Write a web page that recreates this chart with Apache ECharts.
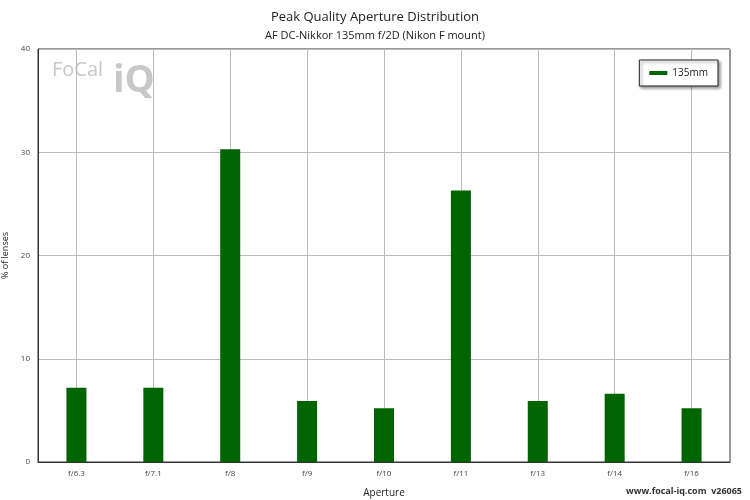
<!DOCTYPE html>
<html><head><meta charset="utf-8">
<script src="https://cdn.jsdelivr.net/npm/echarts@6/dist/echarts.min.js"></script>
<style>body{margin:0}#main{width:750px;height:500px}</style>
</head><body><div id="main"></div>
<script>
// data
const apertures = ['f/6.3', 'f/7.1', 'f/8', 'f/9', 'f/10', 'f/11', 'f/13', 'f/14', 'f/16'];
const lensShare = [7.2, 7.2, 30.3, 5.9, 5.2, 26.3, 5.9, 6.6, 5.2];
const seriesName = '135mm';

const chart = echarts.init(document.getElementById('main'));
const font = 'Open Sans';
chart.setOption({
  textStyle: { fontFamily: font },
  title: {
    text: 'Peak Quality Aperture Distribution',
    subtext: 'AF DC-Nikkor 135mm f/2D (Nikon F mount)',
    left: 'center', top: 6, itemGap: 6,
    textStyle: { fontSize: 13, fontWeight: 'normal', color: '#222', fontFamily: font },
    subtextStyle: { fontSize: 11, color: '#222', fontFamily: font }
  },
  legend: {
    data: [{ name: seriesName, icon: 'rect' }],
    right: 32, top: 60, itemWidth: 18, itemHeight: 4,
    padding: [8, 10], borderColor: '#222', borderWidth: 1, backgroundColor: '#fff',
    shadowColor: 'rgba(0,0,0,0.4)', shadowBlur: 3, shadowOffsetX: 2, shadowOffsetY: 2,
    textStyle: { fontSize: 10, color: '#222' }
  },
  grid: { left: 38, right: 20, top: 49, bottom: 38, containLabel: false, outerBoundsMode: 'none',
    show: true, borderColor: '#333', borderWidth: 1 },
  xAxis: {
    type: 'category', data: apertures, name: 'Aperture', nameLocation: 'middle', nameGap: 26,
    nameTextStyle: { fontSize: 10, color: '#222' },
    axisLine: { lineStyle: { color: '#333' } },
    axisTick: { show: false, alignWithLabel: true },
    axisLabel: { fontSize: 8, color: '#444' },
    splitLine: { show: true, alignWithLabel: true, lineStyle: { color: '#bbb' } }
  },
  yAxis: {
    type: 'value', min: 0, max: 40, interval: 10, name: '% of lenses', nameLocation: 'middle', nameGap: 20,
    nameTextStyle: { fontSize: 9, color: '#222' },
    axisLine: { show: true, lineStyle: { color: '#333' } },
    axisTick: { show: false },
    axisLabel: { fontSize: 8, color: '#444' },
    splitLine: { lineStyle: { color: '#bbb' } }
  },
  graphic: [
    { type: 'text', left: 52, top: 60, style: { text: 'FoCal', fontSize: 20, fill: '#c8c8c8', fontFamily: font } },
    { type: 'text', left: 113, top: 62, style: { text: 'iQ', fontSize: 38, fontWeight: 'bold', fill: '#c8c8c8', fontFamily: font } },
    { type: 'text', right: 8, bottom: 4, style: { text: 'www.focal-iq.com  v26065', fontSize: 9, fontWeight: 'bold', fill: '#333', fontFamily: font } }
  ],
  series: [{
    name: seriesName, type: 'bar', data: lensShare, barWidth: 20,
    itemStyle: { color: '#006400' }
  }]
});
</script></body></html>
